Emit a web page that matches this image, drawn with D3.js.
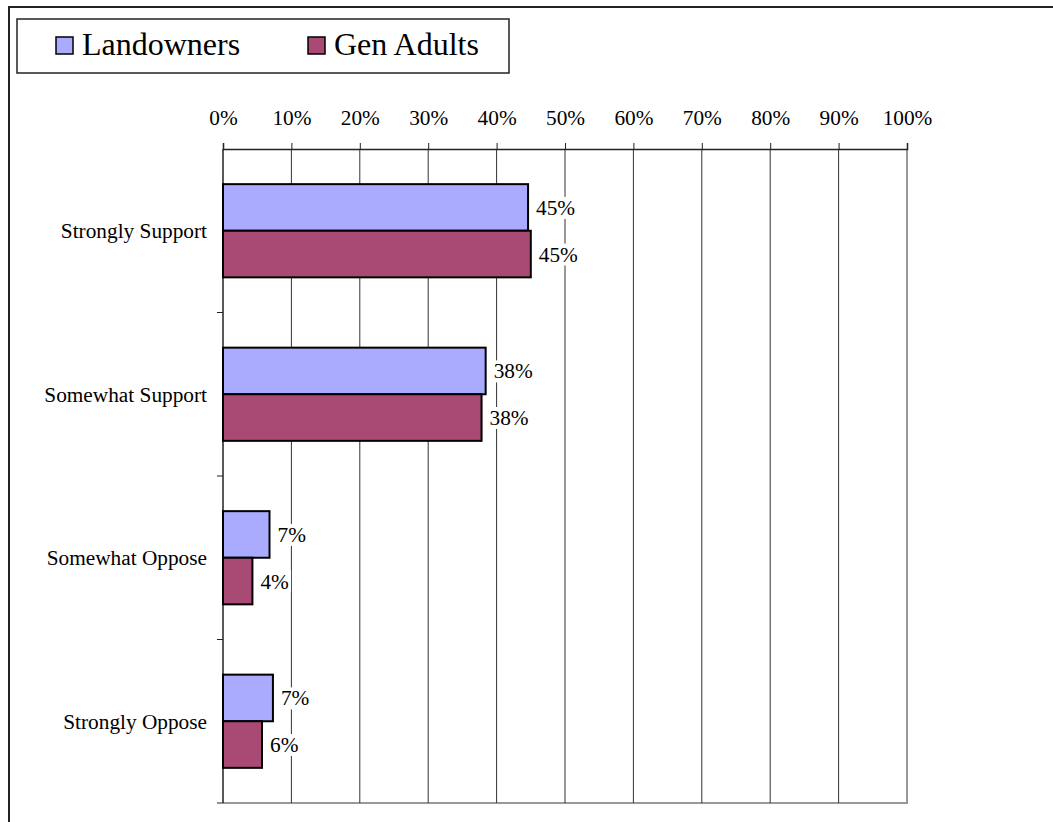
<!DOCTYPE html>
<html>
<head>
<meta charset="utf-8">
<script src="https://cdn.jsdelivr.net/npm/d3@7"></script>
<style>
  body{margin:0;background:#fff;}
  svg text{font-family:"Liberation Serif","Times New Roman","DejaVu Serif",serif;}
</style>
</head>
<body>
<svg id="svg" width="1053" height="822"></svg>
<script>
const categories=["Strongly Support","Somewhat Support","Somewhat Oppose","Strongly Oppose"];
const seriesNames=["Landowners","Gen Adults"];
const landowners=[0.446,0.384,0.068,0.073];
const genAdults=[0.450,0.378,0.043,0.057];
const tickValues=[0,0.1,0.2,0.3,0.4,0.5,0.6,0.7,0.8,0.9,1];
const colors=["#AAAAFF","#A94A75"];

const serif='"Liberation Serif","Times New Roman","DejaVu Serif",serif';
const plotLeft=223, plotRight=907, plotTop=149, plotBottom=803;

var svg=d3.select("#svg");

//outer chart border (runs off the right/bottom of the picture)
svg.append("rect")
    .attr("x",9).attr("y",7)
    .attr("width",1100).attr("height",900)
    .attr("fill","none").attr("stroke","#222").attr("stroke-width",2)

var x=d3.scaleLinear().domain([0,1]).range([plotLeft,plotRight]);
var y0=d3.scaleBand().domain(categories).range([plotTop,plotBottom]).paddingInner(0.43).paddingOuter(0.215);
var y1=d3.scaleBand().domain(seriesNames).range([0,y0.bandwidth()]);
var color=d3.scaleOrdinal().domain(seriesNames).range(colors);

//gray plot border right + bottom
svg.append("path")
    .attr("d","M"+x(1)+","+plotTop+"V"+plotBottom+"H"+x(0))
    .attr("fill","none").attr("stroke","#999").attr("stroke-width",2)

//gridlines
svg.append("g").selectAll("line")
    .data(tickValues.slice(1,-1)).enter().append("line")
        .attr("x1",d=>x(d)).attr("x2",d=>x(d))
        .attr("y1",plotTop).attr("y2",plotBottom)
        .attr("stroke","#333").attr("stroke-width",1)

//top value axis
var xAxis=svg.append("g")
    .attr("transform","translate(0,"+plotTop+")")
    .call(d3.axisTop(x).tickValues(tickValues).tickFormat(d3.format(".0%")).tickSize(6).tickPadding(18))
    .attr("font-family",serif).attr("font-size",21.3)
xAxis.select(".domain").attr("stroke","#222").attr("stroke-width",1.5)
xAxis.selectAll(".tick line").attr("stroke","#222")
xAxis.selectAll("text").attr("fill","#000").attr("font-family",serif)

//left category axis (ticks at category boundaries)
var bounds=d3.range(categories.length+1).map(i=>plotTop+i*y0.step());
svg.append("line")
    .attr("x1",x(0)).attr("x2",x(0)).attr("y1",plotTop).attr("y2",plotBottom)
    .attr("stroke","#222").attr("stroke-width",1.5)
svg.append("g").selectAll("line")
    .data(bounds.slice(1)).enter().append("line")
        .attr("x1",x(0)-6).attr("x2",x(0)).attr("y1",d=>d).attr("y2",d=>d)
        .attr("stroke","#222")

svg.append("g").selectAll("text")
    .data(categories).enter().append("text")
        .attr("x",x(0)-16)
        .attr("y",d=>y0(d)+y0.bandwidth()/2)
        .attr("dy","0.35em")
        .attr("text-anchor","end")
        .attr("font-family",serif)
        .attr("font-size",21.3)
        .text(d=>d)

//bars
var rows=categories.map((c,i)=>({cat:c,values:[{s:seriesNames[0],v:landowners[i]},{s:seriesNames[1],v:genAdults[i]}]}));

var groups=svg.append("g").selectAll("g")
    .data(rows).enter().append("g")
        .attr("transform",d=>"translate(0,"+y0(d.cat)+")")

groups.selectAll("rect")
    .data(d=>d.values).enter().append("rect")
        .attr("x",x(0))
        .attr("y",d=>y1(d.s))
        .attr("width",d=>x(d.v)-x(0))
        .attr("height",y1.bandwidth())
        .attr("fill",d=>color(d.s))
        .attr("stroke","#000").attr("stroke-width",2)

//data labels with white boxes that hide the gridlines
var labels=groups.selectAll("g.lbl")
    .data(d=>d.values).enter().append("g")
        .attr("class","lbl")
        .attr("transform",d=>"translate("+(x(d.v)+8)+","+(y1(d.s)+y1.bandwidth()/2)+")")
labels.append("rect")
labels.append("text")
    .attr("dy","0.35em")
    .attr("font-family",serif)
    .attr("font-size",21.3)
    .text(d=>d3.format(".0%")(d.v))
labels.each(function(){
    var g=d3.select(this);
    var b=g.select("text").node().getBBox();
    g.select("rect")
        .attr("x",b.x-2).attr("y",b.y+1)
        .attr("width",b.width+4).attr("height",b.height-2)
        .attr("fill","#fff")
})

//legend
var legend=svg.append("g")
legend.append("rect")
    .attr("x",17).attr("y",19).attr("width",492).attr("height",54)
    .attr("fill","#fff").attr("stroke","#222").attr("stroke-width",1.5)
var legendX=[56,308];
var items=legend.selectAll("g")
    .data(seriesNames).enter().append("g")
        .attr("transform",(d,i)=>"translate("+legendX[i]+",37)")
items.append("rect")
    .attr("width",17).attr("height",17)
    .attr("fill",d=>color(d))
    .attr("stroke","#000").attr("stroke-width",1.5)
items.append("text")
    .attr("x",26).attr("y",18)
    .attr("font-family",serif)
    .attr("font-size",32)
    .text(d=>d)
</script>
</body>
</html>
